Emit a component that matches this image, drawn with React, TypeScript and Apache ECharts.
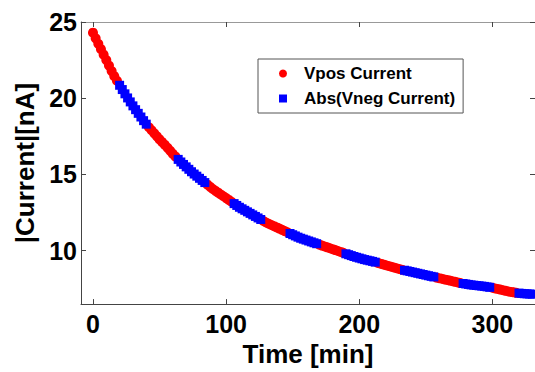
import React, { useEffect, useRef } from "react";
import * as echarts from "echarts";

const xTicks = [0, 100, 200, 300];
const yTicks = [10, 15, 20, 25];

// [time (min), |current| (nA)]
const vposData: [number, number][] = [
  [0, 24.3], [2, 23.93], [4, 23.57], [6, 23.22], [8, 22.86], [10, 22.5], [12, 22.14], [14, 21.78], [16, 21.45], [18, 21.15],
  [42, 18.1], [44, 17.9], [46, 17.7], [48, 17.5], [50, 17.3], [52, 17.12], [54, 16.94], [56, 16.75], [58, 16.55], [60, 16.35], [62, 16.17],
  [86, 14.33], [88, 14.19], [90, 14.05], [92, 13.93], [94, 13.81], [96, 13.69], [98, 13.57], [100, 13.45], [102, 13.33], [104, 13.21],
  [128, 11.95], [130, 11.85], [132, 11.77], [134, 11.69], [136, 11.61], [138, 11.53], [140, 11.45], [142, 11.37], [144, 11.29], [146, 11.21],
  [170, 10.4], [172, 10.34], [174, 10.28], [176, 10.22], [178, 10.16], [180, 10.1], [182, 10.04], [184, 9.98], [186, 9.92], [188, 9.86],
  [214, 9.2], [216, 9.15], [218, 9.1], [220, 9.05], [222, 9.0], [224, 8.95], [226, 8.9], [228, 8.85], [230, 8.8], [232, 8.76],
  [258, 8.24], [260, 8.2], [262, 8.16], [264, 8.12], [266, 8.08], [268, 8.04], [270, 8.0], [272, 7.96], [274, 7.92], [276, 7.88],
  [300, 7.57], [302, 7.53], [304, 7.49], [306, 7.45], [308, 7.41], [310, 7.37], [312, 7.33], [314, 7.3], [316, 7.27], [318, 7.24],
];

const vnegData: [number, number][] = [
  [20, 20.85], [22, 20.57], [24, 20.29], [26, 20.02], [28, 19.76], [30, 19.5], [32, 19.25], [34, 19.01], [36, 18.77], [38, 18.53], [40, 18.3],
  [64, 15.99], [66, 15.82], [68, 15.66], [70, 15.5], [72, 15.34], [74, 15.18], [76, 15.03], [78, 14.89], [80, 14.75], [82, 14.61], [84, 14.47],
  [106, 13.09], [108, 12.97], [110, 12.85], [112, 12.75], [114, 12.65], [116, 12.55], [118, 12.45], [120, 12.35], [122, 12.25], [124, 12.15], [126, 12.05],
  [148, 11.13], [150, 11.05], [152, 10.97], [154, 10.89], [156, 10.82], [158, 10.76], [160, 10.7], [162, 10.64], [164, 10.58], [166, 10.52], [168, 10.46],
  [190, 9.8], [192, 9.74], [194, 9.68], [196, 9.62], [198, 9.57], [200, 9.52], [202, 9.47], [204, 9.42], [206, 9.38], [208, 9.34], [210, 9.3], [212, 9.25],
  [234, 8.72], [236, 8.68], [238, 8.64], [240, 8.6], [242, 8.56], [244, 8.52], [246, 8.48], [248, 8.44], [250, 8.4], [252, 8.36], [254, 8.32], [256, 8.28],
  [278, 7.85], [280, 7.82], [282, 7.79], [284, 7.76], [286, 7.74], [288, 7.72], [290, 7.7], [292, 7.68], [294, 7.66], [296, 7.63], [298, 7.6],
  [320, 7.22], [322, 7.2], [324, 7.18], [326, 7.17], [328, 7.16], [330, 7.15],
];

const FONT = "'Liberation Sans', Arial, sans-serif";

export default function App() {
  const ref = useRef<HTMLDivElement>(null);
  useEffect(() => {
    if (!ref.current) return;
    const chart = echarts.init(ref.current, null, { renderer: "svg" });
    const tickLabel = { fontFamily: FONT, fontWeight: "bold" as const, fontSize: 25, color: "#000" };
    chart.setOption({
      animation: false,
      backgroundColor: "#fff",
      grid: { left: 81, top: 22, right: -2, bottom: 60 },
      legend: {
        orient: "vertical",
        left: 258,
        top: 59,
        padding: [6, 8, 6, 21],
        itemGap: 8,
        itemWidth: 8,
        itemHeight: 8,
        borderColor: "#555",
        borderWidth: 1,
        backgroundColor: "#fff",
        textStyle: { fontFamily: FONT, fontWeight: "bold", fontSize: 17, color: "#000", padding: [0, 0, 0, 12] },
        data: ["Vpos Current", "Abs(Vneg Current)"],
      },
      xAxis: [
        {
          type: "value",
          min: -9,
          max: 332,
          name: "Time [min]",
          nameLocation: "middle",
          nameGap: 30,
          nameTextStyle: { fontFamily: FONT, fontWeight: "bold", fontSize: 26, color: "#000" },
          axisLine: { show: true, onZero: false, lineStyle: { color: "#444", width: 1 } },
          axisTick: { show: true, inside: true, length: 5, customValues: xTicks, lineStyle: { color: "#444" } },
          axisLabel: { ...tickLabel, margin: 7, customValues: xTicks },
          splitLine: { show: false },
        },
        {
          type: "value",
          position: "top",
          min: -9,
          max: 332,
          axisLine: { show: true, onZero: false, lineStyle: { color: "#999", width: 1 } },
          axisTick: { show: true, inside: true, length: 5, customValues: xTicks, lineStyle: { color: "#444" } },
          axisLabel: { show: false },
          splitLine: { show: false },
        },
      ],
      yAxis: [
        {
          type: "value",
          min: 6.5,
          max: 25,
          name: "|Current|[nA]",
          nameLocation: "middle",
          nameGap: 43,
          nameTextStyle: { fontFamily: FONT, fontWeight: "bold", fontSize: 26, color: "#000" },
          axisLine: { show: true, onZero: false, lineStyle: { color: "#444", width: 1 } },
          axisTick: { show: true, inside: true, length: 5, customValues: yTicks, lineStyle: { color: "#444" } },
          axisLabel: { ...tickLabel, margin: 4, customValues: yTicks },
          splitLine: { show: false },
        },
        {
          type: "value",
          position: "right",
          min: 6.5,
          max: 25,
          axisLine: { show: true, onZero: false, lineStyle: { color: "#999", width: 1 } },
          axisTick: { show: true, inside: true, length: 5, customValues: yTicks, lineStyle: { color: "#444" } },
          axisLabel: { show: false },
          splitLine: { show: false },
        },
      ],
      series: [
        {
          name: "Vpos Current",
          type: "scatter",
          symbol: "circle",
          symbolSize: 10,
          itemStyle: { color: "#ff0000", opacity: 1 },
          data: vposData,
        },
        {
          name: "Abs(Vneg Current)",
          type: "scatter",
          symbol: "rect",
          symbolSize: 9,
          itemStyle: { color: "#0000ff", opacity: 1 },
          data: vnegData,
        },
      ],
    });
    return () => chart.dispose();
  }, []);
  return <div ref={ref} style={{ position: "fixed", left: 0, top: 0, width: 535, height: 372 }} />;
}
